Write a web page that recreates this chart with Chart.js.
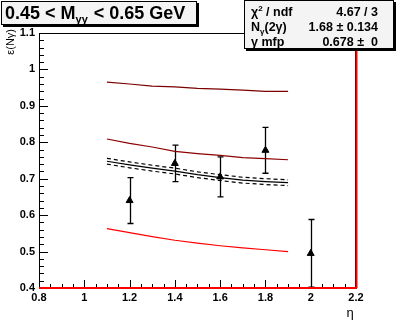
<!DOCTYPE html>
<html>
<head>
<meta charset="utf-8">
<script src="https://cdn.jsdelivr.net/npm/chart.js@4"></script>
<style>
html, body { margin: 0; padding: 0; background: #fff; }
#c { display: block; }
</style>
</head>
<body>
<canvas id="c" width="396" height="322"></canvas>
<script>
// measured efficiency per eta bin
let etaPts = [1.2, 1.4, 1.6, 1.8, 2.0];
let effPts = [0.640, 0.742, 0.705, 0.778, 0.495];
let effErr = [0.063, 0.050, 0.055, 0.063, 0.093];

// fit curves, sampled along eta
let etaFit = [1.1, 1.2, 1.3, 1.4, 1.5, 1.6, 1.7, 1.8, 1.9];
let fitTop = [0.965, 0.960, 0.954, 0.952, 0.948, 0.946, 0.943, 0.940, 0.940];
let fitUpper = [0.809, 0.797, 0.787, 0.775, 0.769, 0.764, 0.758, 0.755, 0.752];
let fitMid = [0.748, 0.738, 0.729, 0.721, 0.711, 0.703, 0.696, 0.692, 0.689];
let fitHi = [0.756, 0.746, 0.737, 0.729, 0.719, 0.711, 0.704, 0.700, 0.697];
let fitLo = [0.740, 0.730, 0.721, 0.713, 0.703, 0.695, 0.688, 0.684, 0.681];
let fitLow = [0.563, 0.552, 0.541, 0.531, 0.523, 0.516, 0.510, 0.505, 0.500];

let xTicks = [0.8, 1, 1.2, 1.4, 1.6, 1.8, 2, 2.2];
let yTicks = [0.4, 0.5, 0.6, 0.7, 0.8, 0.9, 1, 1.1];

function pairs(xs, ys) {
    return xs.map(function (x, i) { return {x: x, y: ys[i]}; });
}

function curve(ys, color, dash) {
    return {
        type: 'line',
        data: pairs(etaFit, ys),
        borderColor: color,
        borderWidth: 1.2,
        borderDash: dash || [],
        pointRadius: 0,
        tension: 0,
        fill: false
    };
}

const FONT = "'Liberation Sans', Arial, sans-serif";

// vertical error bars under the markers
let errorBars = {
    id: 'errorBars',
    beforeDatasetsDraw: function (chart) {
        let ctx = chart.ctx;
        let xs = chart.scales.x, ys = chart.scales.y;
        ctx.save();
        ctx.strokeStyle = '#000';
        ctx.lineWidth = 1.3;
        etaPts.forEach(function (x, i) {
            let px = Math.round(xs.getPixelForValue(x)) + 0.5;
            let top = ys.getPixelForValue(effPts[i] + effErr[i]);
            let bot = ys.getPixelForValue(effPts[i] - effErr[i]);
            ctx.beginPath();
            ctx.moveTo(px, top); ctx.lineTo(px, bot);
            ctx.moveTo(px - 3, top); ctx.lineTo(px + 3, top);
            ctx.moveTo(px - 3, bot); ctx.lineTo(px + 3, bot);
            ctx.stroke();
        });
        ctx.restore();
    }
};

// frame, inward ticks, axis titles and the two text boxes
let decorations = {
    id: 'decorations',
    afterDraw: function (chart) {
        let ctx = chart.ctx;
        let a = chart.chartArea;
        let xs = chart.scales.x, ys = chart.scales.y;
        ctx.save();

        ctx.strokeStyle = '#000';
        ctx.lineWidth = 1;
        ctx.beginPath();
        ctx.moveTo(a.left + 0.5, a.bottom); ctx.lineTo(a.left + 0.5, a.top + 0.5);
        ctx.lineTo(a.right - 0.5, a.top + 0.5); ctx.lineTo(a.right - 0.5, a.bottom);
        ctx.stroke();

        // ticks on y
        ctx.beginPath();
        for (let k = 0; k <= 35; k++) {
            let v = 0.4 + k * 0.02;
            let py = Math.round(ys.getPixelForValue(v)) + 0.5;
            let len = (k % 5 === 0) ? 9 : 5;
            ctx.moveTo(a.left, py); ctx.lineTo(a.left + len, py);
        }
        // ticks on x
        for (let k = 0; k <= 28; k++) {
            let v = 0.8 + k * 0.05;
            let px = Math.round(xs.getPixelForValue(v)) + 0.5;
            let len = (k % 4 === 0) ? 8 : 4;
            ctx.moveTo(px, a.bottom); ctx.lineTo(px, a.bottom - len);
        }
        ctx.stroke();

        // red baseline and right edge
        ctx.strokeStyle = '#ff0000';
        ctx.lineWidth = 2;
        ctx.beginPath();
        ctx.moveTo(a.left, a.bottom); ctx.lineTo(a.right + 1, a.bottom);
        ctx.moveTo(a.right + 0.5, a.bottom); ctx.lineTo(a.right + 0.5, a.top);
        ctx.stroke();

        // axis titles
        ctx.fillStyle = '#000';
        ctx.font = '11px ' + FONT;
        ctx.save();
        ctx.translate(11, 29);
        ctx.rotate(-Math.PI / 2);
        ctx.textAlign = 'right';
        ctx.textBaseline = 'middle';
        ctx.fillText('ε(Nγ)', 0, 0);
        ctx.restore();
        ctx.font = '13px ' + FONT;
        ctx.textAlign = 'center';
        ctx.textBaseline = 'alphabetic';
        ctx.fillText('η', 350, 317);

        function box(x, y, w, h) {
            ctx.fillStyle = '#000';
            ctx.fillRect(x + 2, y + 2, w, h);
            ctx.fillStyle = '#f4f4f4';
            ctx.fillRect(x, y, w, h);
            ctx.strokeStyle = '#000';
            ctx.lineWidth = 1;
            ctx.strokeRect(x + 0.5, y + 0.5, w - 1, h - 1);
        }

        // mass window label
        box(1, 1, 196, 24);
        ctx.textAlign = 'left';
        ctx.fillStyle = '#000';
        let big = 'bold 18px ' + FONT, small = 'bold 11px ' + FONT;
        let tx = 5;
        ctx.font = big;
        ctx.fillText('0.45 < M', tx, 19);
        tx += ctx.measureText('0.45 < M').width;
        ctx.font = small;
        ctx.fillText('γγ', tx, 23);
        tx += ctx.measureText('γγ').width + 1;
        ctx.font = big;
        ctx.fillText(' < 0.65 GeV', tx, 19);

        // fit statistics
        box(244, 0, 150, 49);
        ctx.fillStyle = '#000';
        let f = 'bold 12.5px ' + FONT, fs = 'bold 8px ' + FONT;
        ctx.font = f;
        ctx.textAlign = 'left';
        let lx = 251;
        ctx.fillText('χ', lx, 16);
        let w = ctx.measureText('χ').width;
        ctx.font = fs; ctx.fillText('2', lx + w, 11);
        w += ctx.measureText('2').width;
        ctx.font = f; ctx.fillText(' / ndf', lx + w, 16);

        ctx.fillText('N', lx, 31);
        w = ctx.measureText('N').width;
        ctx.font = fs; ctx.fillText('γ', lx + w, 34);
        w += ctx.measureText('γ').width;
        ctx.font = f; ctx.fillText('(2γ)', lx + w, 31);

        ctx.fillText('γ mfp', lx, 46);

        ctx.textAlign = 'right';
        ctx.fillText('4.67 / 3', 378, 16);
        ctx.fillText('1.68 ± 0.134', 378, 31);
        ctx.fillText('0.678 ±', 364, 46);
        ctx.fillText('0', 378, 46);

        ctx.restore();
    }
};

function tickText(v) {
    return String(Number(v.toFixed(2)));
}

new Chart(document.getElementById('c'), {
    type: 'scatter',
    data: {
        datasets: [
            curve(fitTop, '#7a0000'),
            curve(fitUpper, '#8b0000'),
            curve(fitHi, '#000', [4, 3]),
            curve(fitLo, '#000', [4, 3]),
            curve(fitMid, '#000'),
            curve(fitLow, '#ff0000'),
            {
                type: 'scatter',
                data: pairs(etaPts, effPts),
                pointStyle: 'triangle',
                pointRadius: 4,
                backgroundColor: '#000',
                borderColor: '#000',
                borderWidth: 1
            }
        ]
    },
    options: {
        responsive: false,
        animation: false,
        events: [],
        layout: { padding: { top: 33, right: 40, left: 0, bottom: 0 } },
        plugins: { legend: { display: false }, tooltip: { enabled: false } },
        scales: {
            x: {
                type: 'linear',
                min: 0.8,
                max: 2.2,
                afterBuildTicks: function (s) { s.ticks = xTicks.map(function (v) { return {value: v}; }); },
                afterFit: function (s) { s.height = 34; },
                grid: { display: false, drawTicks: false },
                border: { display: false },
                ticks: {
                    padding: 3,
                    autoSkip: false,
                    maxRotation: 0,
                    color: '#000',
                    font: { family: FONT, size: 11, weight: 'bold' },
                    callback: tickText
                }
            },
            y: {
                type: 'linear',
                min: 0.4,
                max: 1.1,
                afterBuildTicks: function (s) { s.ticks = yTicks.map(function (v) { return {value: v}; }); },
                afterFit: function (s) { s.width = 39; },
                grid: { display: false, drawTicks: false },
                border: { display: false },
                ticks: {
                    padding: 4,
                    autoSkip: false,
                    color: '#000',
                    font: { family: FONT, size: 11, weight: 'bold' },
                    callback: tickText
                }
            }
        }
    },
    plugins: [errorBars, decorations]
});
</script>
</body>
</html>
